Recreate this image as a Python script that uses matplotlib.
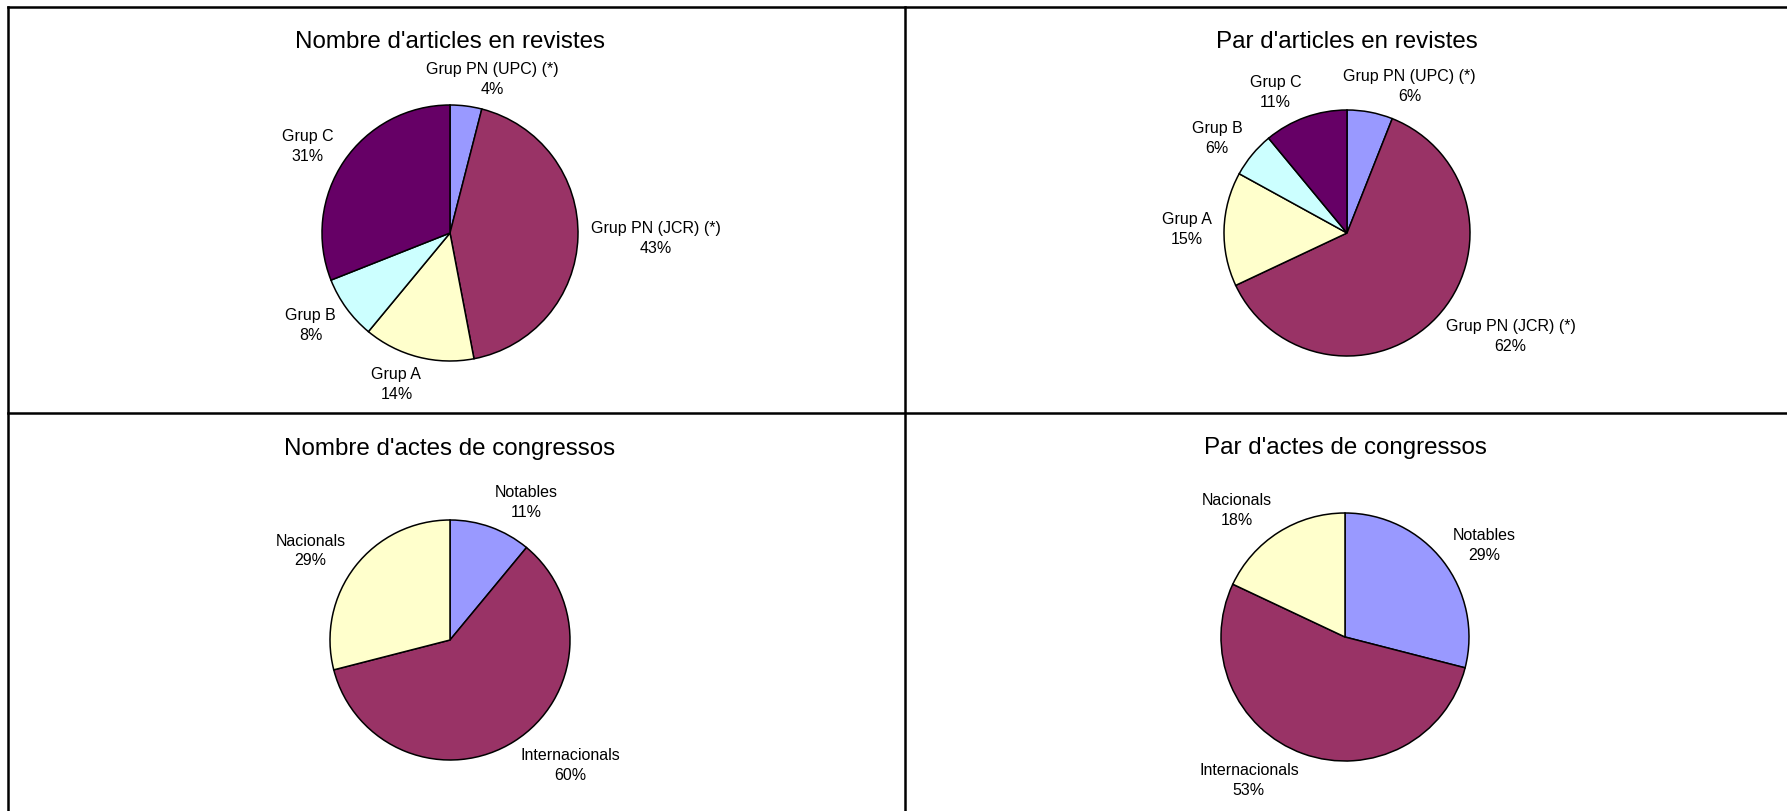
import numpy as np
import matplotlib
matplotlib.use('Agg')
import matplotlib.pyplot as plt
from matplotlib.lines import Line2D

plt.rcParams['font.family'] = ['Liberation Sans', 'DejaVu Sans']

W, H = 1787, 812

# data
art_labels = ['Grup PN (UPC) (*)', 'Grup PN (JCR) (*)', 'Grup A', 'Grup B', 'Grup C']
art_nombre = [4, 43, 14, 8, 31]
art_par = [6, 62, 15, 6, 11]
art_colors = ['#9999FF', '#993366', '#FFFFCC', '#CCFFFF', '#660066']

cong_labels = ['Notables', 'Internacionals', 'Nacionals']
cong_nombre = [11, 60, 29]
cong_par = [29, 53, 18]
cong_colors = ['#9999FF', '#993366', '#FFFFCC']

titles = ["Nombre d'articles en revistes", "Par d'articles en revistes",
          "Nombre d'actes de congressos", "Par d'actes de congressos"]

fig = plt.figure(figsize=(W / 100, H / 100), dpi=100)
renderer = fig.canvas.get_renderer()


def draw_pie(title, labels, values, colors, cx, cy, r, ty):
    # cx, cy, r in pixels (y from top)
    half = 1.6
    ax = fig.add_axes([(cx - half * r) / W, (H - cy - half * r) / H,
                       2 * half * r / W, 2 * half * r / H])
    ax.pie(values, colors=colors, startangle=90, counterclock=False,
           wedgeprops=dict(edgecolor='black', linewidth=1.1))
    ax.set_xlim(-half, half)
    ax.set_ylim(-half, half)
    ax.axis('off')

    total = float(sum(values))
    cum = 0
    for lab, v in zip(labels, values):
        mid = np.deg2rad(90 - 360 * (cum + v / 2.0) / total)
        cum += v
        dx, dy = np.cos(mid), np.sin(mid)
        t = ax.text(0, 0, '%s\n%d%%' % (lab, v), ha='center', va='center',
                    multialignment='center', fontsize=11.5, linespacing=1.4)
        bb = t.get_window_extent(renderer)
        w = bb.width / r
        h = bb.height / r
        x = 1.1 * dx + np.sign(dx) * w / 2 * min(1, 3 * abs(dx))
        y = 1.08 * dy + dy * h / 2
        t.set_position((x, y))

    fig.text(cx / W, 1 - ty / H, title, ha='center', va='baseline', fontsize=17.4)


draw_pie(titles[0], art_labels, art_nombre, art_colors, 450, 234, 128, 48)
draw_pie(titles[1], art_labels, art_par, art_colors, 1347, 234, 123, 48)
draw_pie(titles[2], cong_labels, cong_nombre, cong_colors, 450, 641, 120, 455)
draw_pie(titles[3], cong_labels, cong_par, cong_colors, 1345, 638, 124, 454)


# table borders
def hline(y, x0, x1):
    fig.add_artist(Line2D([x0 / W, x1 / W], [1 - y / H, 1 - y / H],
                          transform=fig.transFigure, color='black', lw=1.8))


def vline(x, y0, y1):
    fig.add_artist(Line2D([x / W, x / W], [1 - y0 / H, 1 - y1 / H],
                          transform=fig.transFigure, color='black', lw=1.8))


hline(8, 8, W)
hline(414, 8, W)
vline(8, 8, H)
vline(905, 8, H)

fig.savefig('out.png', dpi=100)
